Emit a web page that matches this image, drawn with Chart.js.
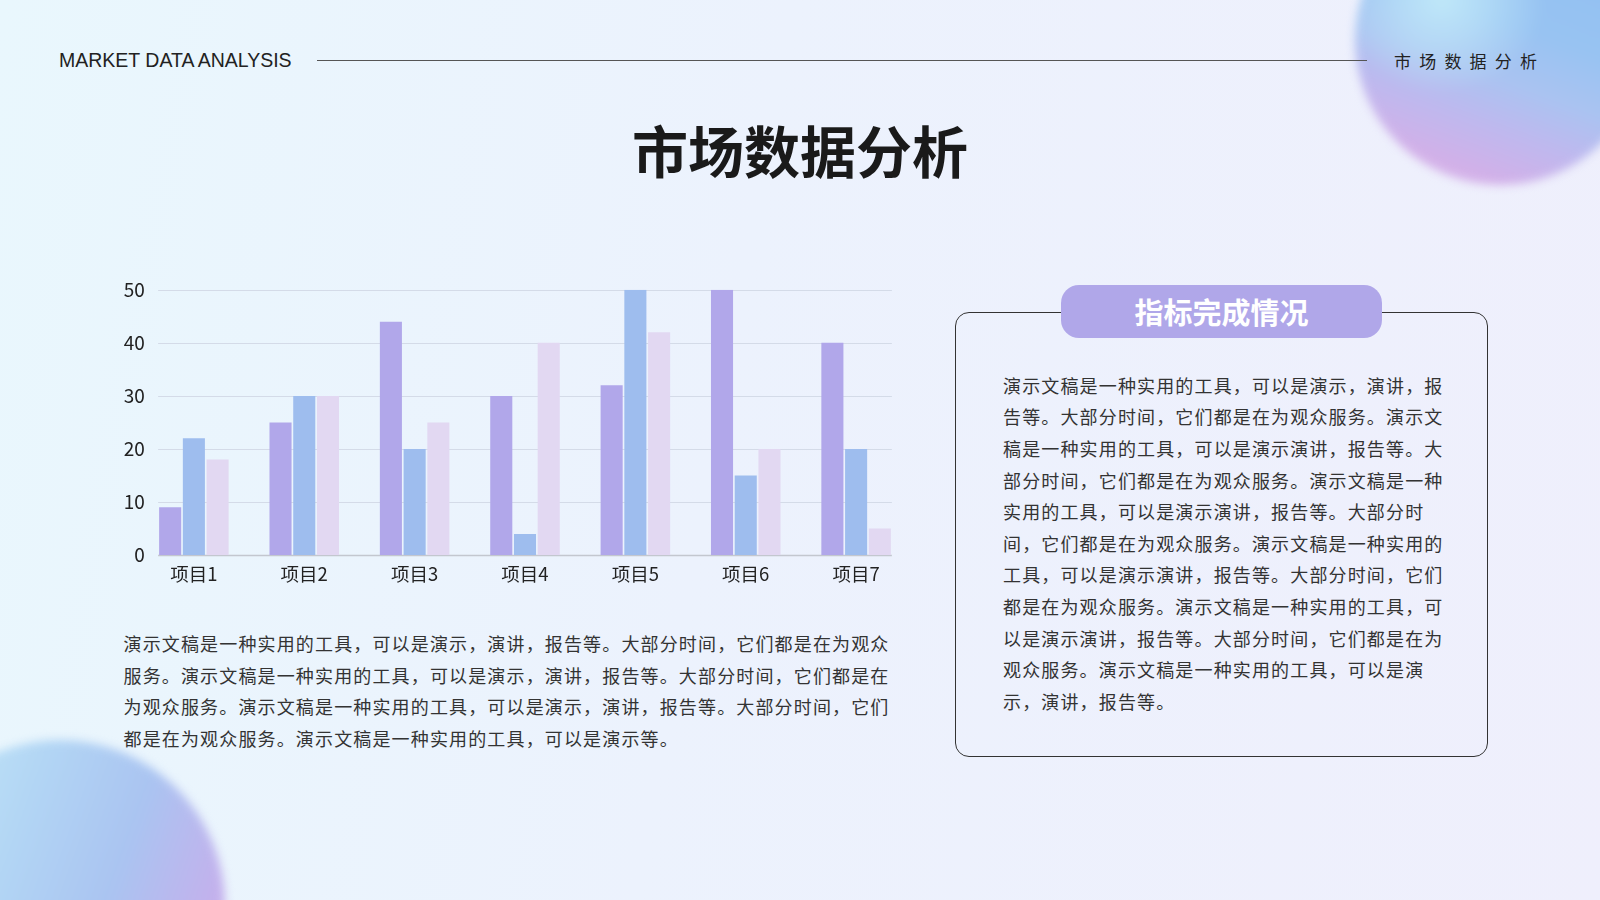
<!DOCTYPE html>
<html>
<head>
<meta charset="utf-8">
<script src="https://cdn.jsdelivr.net/npm/chart.js@4.4.0/dist/chart.umd.min.js"></script>
<style>
  html, body { margin: 0; padding: 0; }
  body {
    width: 1600px; height: 900px; overflow: hidden; position: relative;
    background: linear-gradient(100deg, #e9f7fd 0%, #ecf2fd 45%, #efeffc 100%);
    font-family: "Noto Sans CJK SC", "Noto Sans", sans-serif;
  }
  .blob { position: absolute; border-radius: 50%; filter: blur(5px); }
  #blobTR {
    left: 1355px; top: -105px; width: 290px; height: 290px;
    background:
      radial-gradient(ellipse at 30% 36%, rgba(198,238,250,0.85) 0%, rgba(198,238,250,0.5) 16%, rgba(198,238,250,0) 36%),
      linear-gradient(200deg, #8cbdf0 0%, #98c3f2 45%, #aac3f1 60%, #bfb8ee 73%, #d2b0e8 86%, #e4c6ef 100%);
  }
  #blobBL {
    left: -105px; top: 740px; width: 330px; height: 330px;
    background: linear-gradient(110deg, #c6ecf8 0%, #b2d5f4 35%, #aac4f1 60%, #c4b0ec 85%, #dcc4f0 100%);
  }
  #hdrEn {
    position: absolute; left: 59px; top: 48px; font-family: "Liberation Sans", Arial, sans-serif;
    font-size: 19.5px; color: #222; line-height: 24px; white-space: nowrap;
  }
  #hdrLine { position: absolute; left: 317px; top: 59.5px; width: 1050px; height: 1.5px; background: #555; }
  #hdrCn {
    position: absolute; left: 1394px; top: 49px; font-size: 17px; letter-spacing: 8.2px;
    color: #222; line-height: 24px; white-space: nowrap;
  }
  #title {
    position: absolute; left: 0; width: 1600px; top: 114px; text-align: center;
    font-size: 56px; font-weight: 700; color: #1a1a1a; line-height: 70px;
  }
  #chartWrap { position: absolute; left: 100px; top: 270px; width: 830px; height: 320px; }
  .txt { position: absolute; font-size: 18px; letter-spacing: 1.15px; color: #333; line-height: 31.6px; white-space: nowrap; }
  #txtL { left: 123.5px; top: 628.2px; }
  #box {
    position: absolute; left: 955px; top: 312px; width: 531px; height: 443px;
    border: 1.6px solid #333; border-radius: 14px;
  }
  #pill {
    position: absolute; left: 1061px; top: 285px; width: 321px; height: 53px;
    background: #b0a7e9; border-radius: 18px; color: #fff; text-align: center;
    font-size: 29px; font-weight: 700; line-height: 53px;
  }
  #txtR { left: 1003px; top: 369.9px; }
</style>
</head>
<body>
<div class="blob" id="blobTR"></div>
<div class="blob" id="blobBL"></div>
<div id="hdrEn">MARKET DATA ANALYSIS</div>
<div id="hdrLine"></div>
<div id="hdrCn">市场数据分析</div>
<div id="title">市场数据分析</div>
<div id="chartWrap"><canvas id="c" width="830" height="320"></canvas></div>
<div class="txt" id="txtL"></div>
<div id="box"></div>
<div id="pill">指标完成情况</div>
<div class="txt" id="txtR"></div>
<script>
const categories = ["项目1", "项目2", "项目3", "项目4", "项目5", "项目6", "项目7"];
const series1 = [9, 25, 44, 30, 32, 50, 40];
const series2 = [22, 30, 20, 4, 50, 15, 20];
const series3 = [18, 30, 25, 40, 42, 20, 5];
const seriesNames = ["系列1", "系列2", "系列3"];
const yTicks = [0, 10, 20, 30, 40, 50];

const leftLines = [
  "演示文稿是一种实用的工具，可以是演示，演讲，报告等。大部分时间，它们都是在为观众",
  "服务。演示文稿是一种实用的工具，可以是演示，演讲，报告等。大部分时间，它们都是在",
  "为观众服务。演示文稿是一种实用的工具，可以是演示，演讲，报告等。大部分时间，它们",
  "都是在为观众服务。演示文稿是一种实用的工具，可以是演示等。"
];
const rightLines = [
  "演示文稿是一种实用的工具，可以是演示，演讲，报",
  "告等。大部分时间，它们都是在为观众服务。演示文",
  "稿是一种实用的工具，可以是演示演讲，报告等。大",
  "部分时间，它们都是在为观众服务。演示文稿是一种",
  "实用的工具，可以是演示演讲，报告等。大部分时",
  "间，它们都是在为观众服务。演示文稿是一种实用的",
  "工具，可以是演示演讲，报告等。大部分时间，它们",
  "都是在为观众服务。演示文稿是一种实用的工具，可",
  "以是演示演讲，报告等。大部分时间，它们都是在为",
  "观众服务。演示文稿是一种实用的工具，可以是演",
  "示，演讲，报告等。"
];
function fill(id, lines) {
  const el = document.getElementById(id);
  lines.forEach(l => { const d = document.createElement('div'); d.textContent = l; el.appendChild(d); });
}
fill('txtL', leftLines);
fill('txtR', rightLines);

const gridPlugin = {
  id: 'customGrid',
  beforeDatasetsDraw(chart) {
    const ctx = chart.ctx;
    const y = chart.scales.y;
    const first = chart.getDatasetMeta(0).data[0];
    const lastMeta = chart.getDatasetMeta(chart.data.datasets.length - 1);
    const last = lastMeta.data[lastMeta.data.length - 1];
    const x0 = first.x - first.width / 2 - 1;
    const x1 = last.x + last.width / 2 + 1;
    ctx.save();
    y.ticks.forEach(t => {
      const py = Math.round(y.getPixelForValue(t.value)) + 0.5;
      ctx.strokeStyle = t.value === 0 ? '#c3c7cf' : '#d4dbe8';
      ctx.lineWidth = t.value === 0 ? 1.5 : 1;
      ctx.beginPath(); ctx.moveTo(x0, py); ctx.lineTo(x1, py); ctx.stroke();
    });
    ctx.restore();
  }
};

new Chart(document.getElementById('c'), {
  type: 'bar',
  data: {
    labels: categories,
    datasets: [
      { label: seriesNames[0], data: series1, backgroundColor: '#b1a7ea' },
      { label: seriesNames[1], data: series2, backgroundColor: '#9ebdee' },
      { label: seriesNames[2], data: series3, backgroundColor: '#e2d8f2' }
    ]
  },
  options: {
    responsive: false,
    animation: false,
    devicePixelRatio: 1,
    layout: { padding: { top: 19.8, right: 18.7, left: 0, bottom: 0 } },
    datasets: { bar: { categoryPercentage: 0.645, barPercentage: 0.93 } },
    plugins: { legend: { display: false }, tooltip: { enabled: false } },
    scales: {
      x: {
        grid: { display: false, drawTicks: false },
        border: { display: false },
        ticks: { color: '#222', font: { family: 'Noto Sans CJK SC', size: 18.5 }, padding: 8, maxRotation: 0 },
        afterFit(s) { s.height = 34.9; }
      },
      y: {
        min: 0, max: 50,
        afterBuildTicks(s) { s.ticks = yTicks.map(v => ({ value: v })); },
        grid: { display: false, drawTicks: false },
        border: { display: false },
        ticks: { color: '#222', font: { family: 'Noto Sans CJK SC', size: 19 }, mirror: true, crossAlign: 'far', padding: -15 },
        afterFit(s) { s.width = 38.7; }
      }
    }
  },
  plugins: [gridPlugin]
});
</script>
</body>
</html>
